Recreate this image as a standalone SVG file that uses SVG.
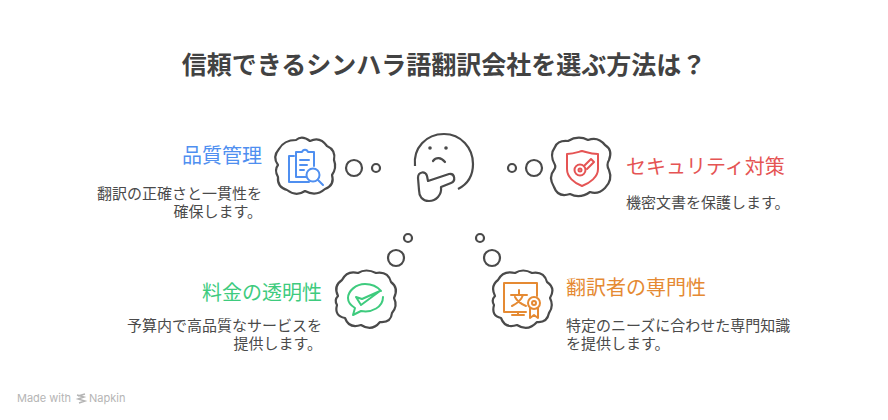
<svg xmlns="http://www.w3.org/2000/svg" width="888" height="420" viewBox="0 0 888 420">
<style>
text{font-family:"Noto Sans CJK JP","Noto Sans",sans-serif}
.t{font-size:25px;font-weight:700;fill:#424242}
.h{font-size:20px;font-weight:400}
.b{font-size:15px;fill:#4a4a4a}
.e{text-anchor:end}
.c{fill:none;stroke:#4a4a4a;stroke-width:2.2;stroke-linejoin:round}
.o{fill:#fff;stroke:#4a4a4a;stroke-width:2.2}
.i{fill:none;stroke-width:2;stroke-linecap:round;stroke-linejoin:round}
</style>
<rect width="888" height="420" fill="#fff"/>
<text class="t" x="444" y="74" text-anchor="middle">信頼できるシンハラ語翻訳会社を選ぶ方法は？</text>
<g id="connectors">
<circle class="o" cx="354" cy="168" r="8"/><circle class="o" cx="376" cy="168" r="4"/>
<circle class="o" cx="534" cy="168" r="8"/><circle class="o" cx="512" cy="168" r="4"/>
<circle class="o" cx="396" cy="258" r="8"/><circle class="o" cx="408" cy="238" r="4"/>
<circle class="o" cx="492" cy="258" r="8"/><circle class="o" cx="480" cy="238" r="4"/>
</g>
<g id="center">
<path class="c" d="M415 166C413 148 426 134 444 134C461 134 473 148 473 164C473 176 468 184 458 189"/>
<circle cx="430" cy="148" r="1.8" fill="#4a4a4a"/><circle cx="446" cy="148" r="1.8" fill="#4a4a4a"/>
<path class="c" d="M433 161C436 157 441 157 445 162" stroke-linecap="round"/>
<path class="c" d="M428 181L449 174C455 173 456 181 451 183L441 187C442 195 436 201 429 201C422 201 419 196 419 190L418 178C418 171 426 171 427 176Z"/>
</g>
<g id="quality">
<path class="c" d="M278 165Q272 157 279 149Q284 140 296 140Q302 135 310 141Q320 136 327 146Q336 150 334 160Q337 168 332 175Q335 185 325 189Q316 197 305 191Q296 197 287 190Q277 187 278 177Q274 170 278 165Z"/>
<g class="i" stroke="#4f8ff0">
<path d="M294 156H289V182H309M296 152H302C303 149 307 149 308 152H314V166M296 152V177H306"/>
<path d="M300 160H309M300 165H307M300 170H304"/>
<circle cx="313" cy="175" r="6.5"/><path d="M318 180L323 185"/>
</g>
<text class="h e" x="262" y="163" fill="#4f8ff0">品質管理</text>
<text class="b e" x="262" y="199">翻訳の正確さと一貫性を</text>
<text class="b e" x="262" y="217">確保します。</text>
</g>
<g id="security">
<path class="c" d="M555 165Q549 155 555 147Q558 140 568 141Q578 135 588 140Q598 136 605 145Q613 150 609 160Q606 165 609 170Q613 180 605 188Q598 195 590 192Q580 199 570 194Q558 198 554 187Q548 177 554 170Q556 167 555 165Z"/>
<g class="i" stroke="#e55454">
<path d="M567 154C574 154 578 152 582 151C586 152 591 154 598 154V169C598 177 590 183 582 186C574 183 567 177 567 169Z"/>
<circle cx="580" cy="170" r="5.5"/><circle cx="580" cy="170" r="1.5"/>
<path d="M584 166L591 159L594 162L587 169"/>
</g>
<text class="h" x="626" y="174" fill="#e55454">セキュリティ対策</text>
<text class="b" x="626" y="208">機密文書を保護します。</text>
</g>
<g id="pricing">
<path class="c" d="M338 296Q333 286 342 280Q347 270 358 273Q366 268 376 273Q388 271 391 282Q399 288 394 298Q398 306 392 313Q391 323 380 322Q372 332 361 325Q349 329 345 318Q334 316 337 305Q334 300 338 296Z"/>
<g class="i" stroke="#3ecb7e">
<path d="M381 291C376 285 370 284 365 284C356 284 348 291 348 298C348 302 350 305 355 308L353 315L361 311C372 313 383 307 383 297"/>
<path d="M356 297L361 305L380 291L362 299Z"/>
</g>
<text class="h e" x="322" y="300" fill="#3ecb7e">料金の透明性</text>
<text class="b e" x="322" y="331">予算内で高品質なサービスを</text>
<text class="b e" x="322" y="349">提供します。</text>
</g>
<g id="expertise">
<path class="c" d="M495 296Q490 286 498 280Q503 270 515 273Q523 268 532 273Q544 271 547 282Q556 288 550 298Q554 306 549 313Q547 323 537 322Q528 332 517 325Q505 329 501 318Q491 316 494 305Q491 300 495 296Z"/>
<g class="i" stroke="#e58a33">
<path d="M537 296V283H504V312H526"/><path d="M518 312V315M512 315H524"/>
<path d="M511 295H527M519 290V295M523 295C521 301 516 304 512 306M515 297C517 301 521 304 526 306"/>
<circle cx="534" cy="303" r="6"/><circle cx="534" cy="303" r="2"/>
<path d="M530 308V318L534 315L538 318V308"/>
</g>
<text class="h" x="566" y="295" fill="#e58a33">翻訳者の専門性</text>
<text class="b" x="566" y="331">特定のニーズに合わせた専門知識</text>
<text class="b" x="566" y="349">を提供します。</text>
</g>
<g id="watermark">
<text x="17" y="402" font-size="11" fill="#b5b5b5" style="font-family:Inter,'Noto Sans',sans-serif">Made with</text>
<path d="M77 395L84 397L78 399L85 401L79 403M78 396L85 394" fill="none" stroke="#b5b5b5" stroke-width="1.4"/>
<text x="89" y="402" font-size="11" fill="#b5b5b5" style="font-family:Inter,'Noto Sans',sans-serif">Napkin</text>
</g>
</svg>
